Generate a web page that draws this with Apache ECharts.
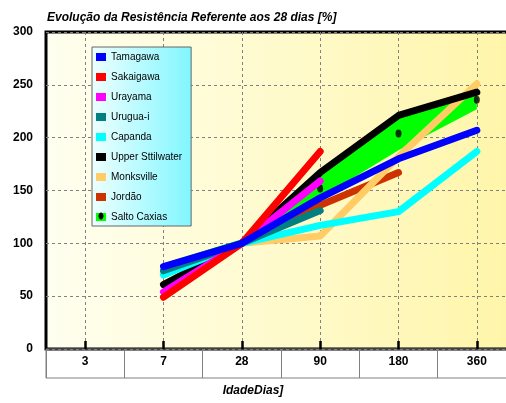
<!DOCTYPE html>
<html>
<head>
<meta charset="utf-8">
<script src="https://cdn.jsdelivr.net/npm/echarts@6/dist/echarts.min.js"></script>
<style>
html,body{margin:0;padding:0;background:#fff;}
#chart{width:506px;height:403px;}
</style>
</head>
<body>
<div id="chart"></div>
<script>
// ---- data ----
var categories = ['3', '7', '28', '90', '180', '360'];
var tamagawa        = [null, 78, 100, 143, 180, 207];
var sakaigawa       = [null, 49, 100, 187, null, null];
var urayama         = [null, 54, 100, 159, null, null];
var uruguai         = [null, 74, 100, 131, null, null];
var capanda         = [null, 70, 100, 117, 130, 187];
var upperStillwater = [null, 61, 100, 167, 221, 243];
var monksville      = [null, 72, 100, 107, 182, 251];
var jordao          = [null, 72, 100, 136, 167, null];
var saltoCaxias     = [null, 74, 100, 152, 204, 236];
var saltoLow        = [null, 70, 97, 143, 188, 227];
var saltoHigh       = [null, 80, 103, 167, 218, 240];
var yTicks = [0, 50, 100, 150, 200, 250, 300];
var titleText = 'Evolução da Resistência Referente aos 28 dias [%]';
var seriesNames = ['Tamagawa', 'Sakaigawa', 'Urayama', 'Urugua-i', 'Capanda',
                   'Upper Sttilwater', 'Monksville', 'Jordão', 'Salto Caxias'];

var chart = echarts.init(document.getElementById('chart'), null, {renderer: 'canvas'});
var FONT = 'Liberation Sans, Arial, sans-serif';

// helper grid: category centres as odd points of a 13-point axis
var helperCats = [];
for (var i = 0; i < categories.length * 2 + 1; i++) helperCats.push(String(i));
function oddIdx(idx) { return idx % 2 === 1; }

var bandDiff = saltoHigh.map(function (v, i) { return v == null ? null : v - saltoLow[i]; });

var lineDefs = [
  {name: seriesNames[0], data: tamagawa, color: '#0000FF', z: 20},
  {name: seriesNames[1], data: sakaigawa, color: '#FF0000', z: 19},
  {name: seriesNames[2], data: urayama, color: '#FF00FF', z: 18},
  {name: seriesNames[3], data: uruguai, color: '#008080', z: 17},
  {name: seriesNames[4], data: capanda, color: '#00FFFF', z: 16},
  {name: seriesNames[5], data: upperStillwater, color: '#000000', z: 15},
  {name: seriesNames[6], data: monksville, color: '#FFCC66', z: 14},
  {name: seriesNames[7], data: jordao, color: '#CC3300', z: 13}
];

var series = lineDefs.map(function (d) {
  return {
    type: 'line', name: d.name, data: d.data, z: d.z,
    xAxisIndex: 0, yAxisIndex: 0,
    showSymbol: false, symbol: 'none',
    itemStyle: {color: d.color},
    lineStyle: {color: d.color, width: 7, cap: 'round', join: 'round'},
    connectNulls: false
  };
});
series.push({
  type: 'line', name: 'sc_base', data: saltoLow, stack: 'sc', z: 10,
  xAxisIndex: 0, yAxisIndex: 0, symbol: 'none',
  lineStyle: {width: 0, opacity: 0}, itemStyle: {color: '#00FF00'}
});
series.push({
  type: 'line', name: 'Salto Caxias', data: bandDiff, stack: 'sc', z: 11,
  xAxisIndex: 0, yAxisIndex: 0, symbol: 'none',
  itemStyle: {color: '#00FF00'},
  lineStyle: {color: '#00FF00', width: 2, cap: 'round', join: 'round'},
  areaStyle: {color: '#00FF00', opacity: 1}
});
series.push({
  type: 'scatter', name: 'sc_dots', data: saltoCaxias, z: 12,
  xAxisIndex: 0, yAxisIndex: 0,
  symbol: 'circle', symbolSize: [6, 8],
  itemStyle: {color: '#000000'}
});

var gridRect = {left: 46, width: 470, top: 32, height: 317, outerBoundsMode: 'none', containLabel: false};

var option = {
  animation: false,
  backgroundColor: '#ffffff',
  title: [
    {
      text: titleText, left: 47, top: 12, padding: 0,
      textStyle: {fontFamily: FONT, fontSize: 12, fontStyle: 'italic', fontWeight: 'bold', color: '#000'}
    },
    {
      text: '{a|Idade}{b|D}{a|ias]}', left: 'center', top: 385, padding: 0,
      textStyle: {
        rich: {
          a: {fontFamily: FONT, fontSize: 12, fontStyle: 'italic', color: '#000'},
          b: {fontFamily: FONT, fontSize: 12, fontStyle: 'italic', fontWeight: 'bold', color: '#000'}
        }
      }
    }
  ],
  legend: {
    data: seriesNames,
    orient: 'vertical',
    left: 92, top: 47,
    padding: [4, 9, 3, 4],
    itemWidth: 10, itemHeight: 8, itemGap: 8,
    icon: 'rect',
    selectedMode: false,
    backgroundColor: new echarts.graphic.LinearGradient(0, 0, 1, 0, [
      {offset: 0, color: '#EEFFFF'}, {offset: 1, color: '#80F6FF'}
    ]),
    borderColor: '#666666', borderWidth: 1,
    textStyle: {fontFamily: FONT, fontSize: 10, lineHeight: 12, color: '#000'}
  },
  graphic: [
    {type: 'ellipse', shape: {cx: 101, cy: 216, rx: 2.5, ry: 3.5}, style: {fill: '#000'}, z: 100}
  ],
  grid: [
    Object.assign({show: true, borderColor: '#000', borderWidth: 3,
      backgroundColor: new echarts.graphic.LinearGradient(0, 0, 1, 0, [
        {offset: 0, color: '#FFFFF0'}, {offset: 1, color: '#FFF5A8'}
      ])}, gridRect),
    Object.assign({show: false}, gridRect),
    // label table under the plot
    {show: true, left: 46, width: 470, top: 349, height: 29, outerBoundsMode: 'none', containLabel: false,
     borderColor: '#808080', borderWidth: 1, backgroundColor: 'transparent'}
  ],
  xAxis: [
    {
      type: 'category', data: categories, gridIndex: 0, boundaryGap: true,
      position: 'bottom',
      axisLine: {show: false},
      axisTick: {show: true, inside: false, length: 29, lineStyle: {color: '#808080', width: 1}},
      axisLabel: {show: true, margin: 7, fontFamily: FONT, fontSize: 12, fontWeight: 'bold', color: '#000', interval: 0},
      splitLine: {show: false}
    },
    {
      type: 'category', data: helperCats, gridIndex: 1, boundaryGap: false,
      position: 'bottom',
      axisLine: {show: false},
      axisTick: {show: true, inside: true, length: 8, interval: oddIdx, lineStyle: {color: '#000', width: 2.5}},
      axisLabel: {show: false},
      splitLine: {show: true, interval: oddIdx, lineStyle: {color: '#808080', width: 1, type: [3, 3]}}
    },
    {
      type: 'category', data: categories, gridIndex: 2, show: false
    }
  ],
  yAxis: [
    {
      type: 'value', gridIndex: 0, min: yTicks[0], max: yTicks[yTicks.length - 1], interval: yTicks[1] - yTicks[0],
      axisLine: {show: false}, axisTick: {show: false},
      axisLabel: {margin: 13, fontFamily: FONT, fontSize: 12, fontWeight: 'bold', color: '#000'},
      splitLine: {show: true, lineStyle: {color: '#808080', width: 1, type: [3, 3]}}
    },
    {
      type: 'value', gridIndex: 1, min: 0, max: 300, interval: 50,
      axisLine: {show: false}, axisTick: {show: false}, axisLabel: {show: false}, splitLine: {show: false}
    },
    {
      type: 'value', gridIndex: 2, show: false, min: 0, max: 1
    }
  ],
  series: series
};
chart.setOption(option);
</script>
</body>
</html>
